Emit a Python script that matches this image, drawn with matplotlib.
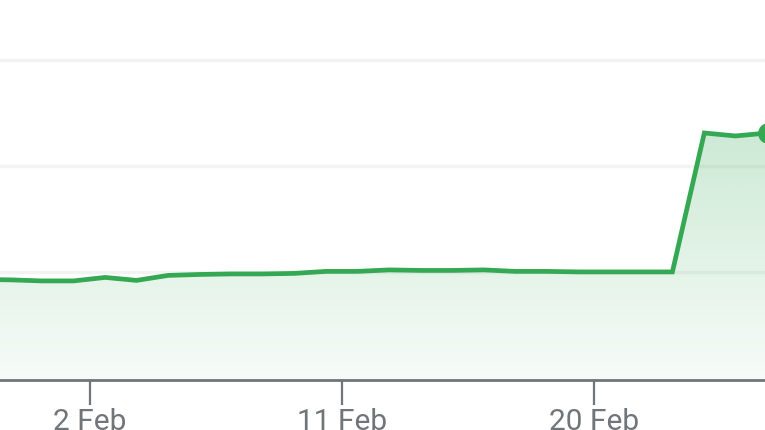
import numpy as np
import matplotlib.pyplot as plt
from matplotlib.patches import Polygon

# x = day of February (fractional), y = value
days = [-1.96, -0.84, 0.28, 1.41, 2.54, 3.66, 4.79, 5.91, 7.04, 8.17, 9.30,
        10.42, 11.55, 12.68, 13.80, 14.93, 16.06, 17.19, 18.31, 19.44,
        20.56, 21.69, 22.80, 23.94, 25.05, 26.20]
values = [0.929, 0.925, 0.915, 0.915, 0.948, 0.920, 0.967, 0.976, 0.981,
          0.981, 0.986, 1.005, 1.005, 1.019, 1.014, 1.014, 1.019, 1.005,
          1.005, 1.000, 1.000, 1.000, 1.000, 2.311, 2.283, 2.311]

tick_days = [2, 11, 20]
tick_labels = ['2 Feb', '11 Feb', '20 Feb']
grid_vals = [1, 2, 3]

green = '#34a853'

fig = plt.figure(figsize=(7.65, 4.3), dpi=100)
fig.patch.set_facecolor('white')
ax = fig.add_axes([0, 50 / 430, 1, 380 / 430])

x0, x1 = 2 - 90 / 28, 2 + (765 - 90) / 28
y0, y1 = -0.02, 378 / 106
ax.set_xlim(x0, x1)
ax.set_ylim(y0, y1)

# gridlines
for g in grid_vals:
    ax.axhline(g, color='#f3f3f3', lw=2.5, zorder=0)

# gradient fill under the line
grad = np.linspace(0.0, 1.0, 256).reshape(-1, 1)
cmap = plt.matplotlib.colors.LinearSegmentedColormap.from_list(
    'g', [(0.20, 0.66, 0.33, 0.04), (0.20, 0.66, 0.33, 0.26)])
img = ax.imshow(grad, aspect='auto', cmap=cmap, origin='lower',
                extent=[x0 - 3, x1 + 3, y0, 2.45], zorder=1)
poly = Polygon(list(zip(days, values)) + [(days[-1], y0), (days[0], y0)],
               closed=True, transform=ax.transData)
img.set_clip_path(poly)

ax.plot(days, values, color=green, lw=3.4, zorder=3, solid_joinstyle='miter')
ax.plot(days[-1], values[-1], 'o', color=green, ms=14, zorder=4)

for s in ['top', 'left', 'right']:
    ax.spines[s].set_visible(False)
ax.spines['bottom'].set_color('#70757a')
ax.spines['bottom'].set_linewidth(2)
ax.spines['bottom'].set_zorder(5)

ax.set_yticks([])
ax.set_xticks(tick_days)
ax.set_xticklabels(tick_labels, fontfamily='Roboto', fontsize=21.5, color='#70757a')
ax.tick_params(axis='x', length=18, width=1.6, color='#70757a', pad=2)

fig.savefig('out.png', dpi=100, facecolor='white')
